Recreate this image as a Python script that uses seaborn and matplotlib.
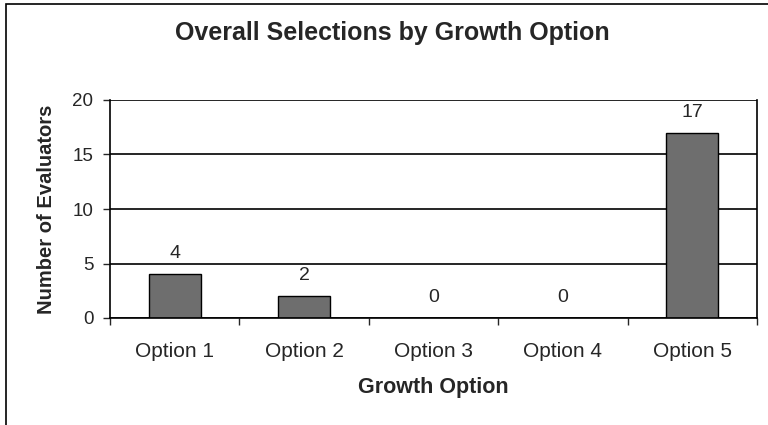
import numpy as np
import pandas as pd
import matplotlib
matplotlib.use("Agg")
import matplotlib.pyplot as plt
from matplotlib.patches import Rectangle
import seaborn as sns

# ------------------------------
# Data
# ------------------------------
options = ["Option 1", "Option 2", "Option 3", "Option 4", "Option 5"]
evaluators = [4, 2, 0, 0, 17]
y_ticks = [0, 5, 10, 15, 20]

df = pd.DataFrame({"option": options, "count": evaluators})

# ------------------------------
# Plot
# ------------------------------
sns.set_style("white")
plt.rcParams["font.family"] = ["Liberation Sans", "DejaVu Sans"]

fig = plt.figure(figsize=(7.68, 4.25), dpi=100)
ax = fig.add_axes([110 / 768, 1 - 318 / 425, 647 / 768, 218 / 425])

sns.barplot(data=df, x="option", y="count", color="#6e6e6e",
            width=0.4, edgecolor="black", linewidth=1.0, saturation=1, ax=ax)

ax.set_xlim(-0.5, len(options) - 0.5)
ax.set_ylim(0, 20)
ax.set_yticks(y_ticks)
ax.yaxis.grid(True, color="black", linewidth=1.2)
ax.set_axisbelow(True)

for s in ["left", "right", "bottom"]:
    ax.spines[s].set_visible(True)
    ax.spines[s].set_color("black")
    ax.spines[s].set_linewidth(1.2)
ax.spines["top"].set_visible(False)

# ticks: y outward, x between categories
ax.tick_params(axis="y", which="major", direction="out", length=5, width=1,
               left=True, labelsize=13.5, pad=7)
ax.set_xticks(np.arange(len(options)))
ax.set_xticklabels(options, fontsize=15)
ax.tick_params(axis="x", which="major", length=0, pad=17)
ax.set_xticks(np.arange(len(options) + 1) - 0.5, minor=True)
ax.tick_params(axis="x", which="minor", direction="out", length=5, width=1,
               bottom=True)

for i, v in enumerate(evaluators):
    ax.annotate(str(v), (i, v), xytext=(0, 11.5), textcoords="offset points",
                ha="center", va="baseline", fontsize=14)

ax.set_xlabel("Growth Option", fontsize=15.5, fontweight="bold", labelpad=12)
ax.set_ylabel("Number of Evaluators", fontsize=14.5, fontweight="bold",
              labelpad=12)
fig.text(392 / 768, 1 - 40 / 425, "Overall Selections by Growth Option",
         ha="center", va="baseline", fontsize=18, fontweight="bold")

# outer chart frame (only left and top edges fall inside the image)
fig.patches.append(Rectangle((6 / 768, -0.1), 1.1, 1.1 - 3.5 / 425,
                             transform=fig.transFigure, fill=False,
                             edgecolor="black", linewidth=1.2))

fig.savefig("out.png", dpi=100)
